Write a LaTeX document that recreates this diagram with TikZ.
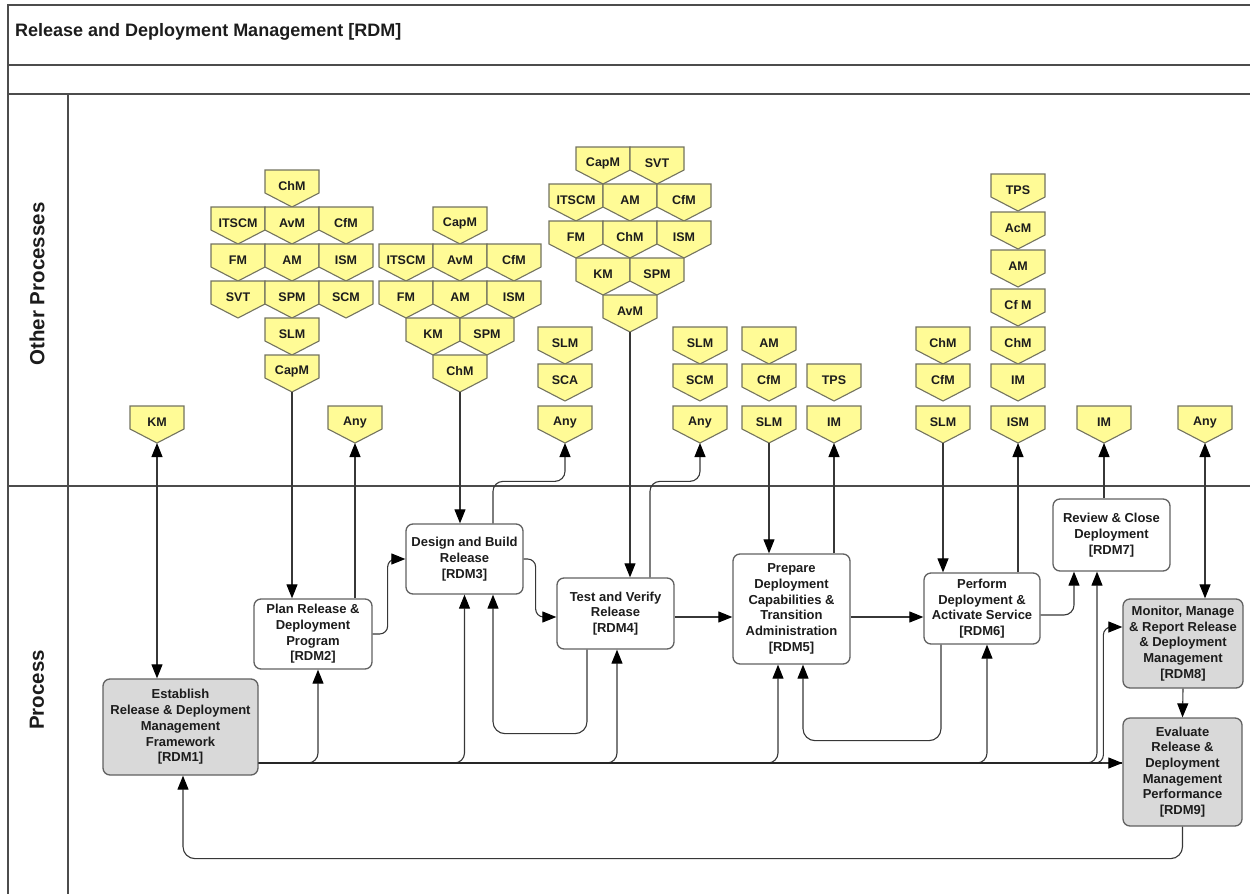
\documentclass[tikz,border=0pt]{standalone}
\usepackage{fontspec}
\setmainfont{Liberation Sans}
\usetikzlibrary{arrows.meta}

\definecolor{chipfill}{RGB}{255,251,150}
\definecolor{chipline}{RGB}{115,115,95}
\definecolor{boxgrey}{RGB}{217,217,217}
\definecolor{ink}{RGB}{28,28,28}
\definecolor{wire}{RGB}{55,55,55}

\tikzset{
  chipshape/.style={fill=chipfill, draw=chipline, line width=1.1pt, line join=miter},
  chiptext/.style={font=\bfseries\fontsize{12.5}{14}\selectfont, text=ink, inner sep=0pt},
  stepbox/.style={draw=black!62, line width=1.3pt, rounded corners=7pt, fill=white,
    align=center, font=\bfseries\fontsize{13}{15.7}\selectfont, text=ink, inner sep=2pt},
  greybox/.style={stepbox, fill=boxgrey},
  wire/.style={draw=wire, line width=1.1pt},
  tip/.style={-{Triangle[length=14pt,width=11pt,color=black]}},
  tips/.style={{Triangle[length=14pt,width=11pt,color=black]}-{Triangle[length=14pt,width=11pt,color=black]}},
  trunk/.style={draw=black!85, line width=2.4pt},
  lane/.style={draw=black!70, line width=1.3pt},
  lanelabel/.style={rotate=90, font=\bfseries\fontsize{20.5}{24}\selectfont, text=ink},
}

% pentagon tag: name, centre x, top y, label
\newcommand{\chip}[4]{%
  \draw[chipshape] (#2-27,#3) -- (#2+27,#3) -- (#2+27,#3+23) -- (#2,#3+37) -- (#2-27,#3+23) -- cycle;
  \node[chiptext] (#1) at (#2,#3+16.5) {#4};
  \coordinate (#1-tip) at (#2,#3+37);
}

\begin{document}
\begin{tikzpicture}[x=1pt,y=-1pt]
\useasboundingbox (0,0) rectangle (1250,894);

% frame and swim lanes
\draw[lane] (8,894) -- (8,5) -- (1250,5);
\draw[lane] (8,65) -- (1250,65);
\draw[lane] (8,94) -- (1250,94);
\draw[lane] (8,486) -- (1250,486);
\draw[lane] (68,94) -- (68,894);

\node[anchor=base west, font=\bfseries\fontsize{18}{20}\selectfont, text=ink, inner sep=0pt]
  (title) at (15,36) {Release and Deployment Management [RDM]};
\node[lanelabel] (laneother) at (37,284) {Other Processes};
\node[lanelabel] (laneproc) at (37,690) {Process};

% ---- other processes: tags ----
\chip{km}{157}{406}{KM}
\chip{anyA}{355}{406}{Any}

% inputs to RDM2
\chip{a1}{292}{170}{ChM}
\chip{a2}{238}{207}{ITSCM}
\chip{a3}{292}{207}{AvM}
\chip{a4}{346}{207}{CfM}
\chip{a5}{238}{244}{FM}
\chip{a6}{292}{244}{AM}
\chip{a7}{346}{244}{ISM}
\chip{a8}{238}{281}{SVT}
\chip{a9}{292}{281}{SPM}
\chip{a10}{346}{281}{SCM}
\chip{a11}{292}{318}{SLM}
\chip{a12}{292}{355}{CapM}

% inputs to RDM3
\chip{b1}{460}{207}{CapM}
\chip{b2}{406}{244}{ITSCM}
\chip{b3}{460}{244}{AvM}
\chip{b4}{514}{244}{CfM}
\chip{b5}{406}{281}{FM}
\chip{b6}{460}{281}{AM}
\chip{b7}{514}{281}{ISM}
\chip{b8}{433}{318}{KM}
\chip{b9}{487}{318}{SPM}
\chip{b10}{460}{355}{ChM}

% outputs of RDM3
\chip{c1}{565}{327}{SLM}
\chip{c2}{565}{364}{SCA}
\chip{anyB}{565}{406}{Any}

% inputs to RDM4
\chip{d1}{603}{147}{CapM}
\chip{d2}{657}{147}{SVT}
\chip{d3}{576}{184}{ITSCM}
\chip{d4}{630}{184}{AM}
\chip{d5}{684}{184}{CfM}
\chip{d6}{576}{221}{FM}
\chip{d7}{630}{221}{ChM}
\chip{d8}{684}{221}{ISM}
\chip{d9}{603}{258}{KM}
\chip{d10}{657}{258}{SPM}
\chip{d11}{630}{295}{AvM}

% outputs of RDM4
\chip{e1}{700}{327}{SLM}
\chip{e2}{700}{364}{SCM}
\chip{anyC}{700}{406}{Any}

% RDM5 inputs and outputs
\chip{f1}{769}{327}{AM}
\chip{f2}{769}{364}{CfM}
\chip{f3}{769}{406}{SLM}
\chip{g1}{834}{364}{TPS}
\chip{g2}{834}{406}{IM}

% RDM6 inputs and outputs
\chip{h1}{943}{327}{ChM}
\chip{h2}{943}{364}{CfM}
\chip{h3}{943}{406}{SLM}
\chip{i1}{1018}{174}{TPS}
\chip{i2}{1018}{212}{AcM}
\chip{i3}{1018}{250}{AM}
\chip{i4}{1018}{289}{Cf M}
\chip{i5}{1018}{327}{ChM}
\chip{i6}{1018}{364}{IM}
\chip{i7}{1018}{406}{ISM}

% RDM7 and RDM8
\chip{j1}{1104}{406}{IM}
\chip{anyD}{1205}{406}{Any}

% ---- process steps ----
\node[greybox, minimum width=155pt, minimum height=96pt] (rdm1) at (180.5,727)
  {Establish\\Release \& Deployment\\Management\\Framework\\{}[RDM1]};
\node[stepbox, minimum width=118pt, minimum height=70pt] (rdm2) at (313,634)
  {Plan Release \&\\Deployment\\Program\\{}[RDM2]};
\node[stepbox, minimum width=117pt, minimum height=70pt] (rdm3) at (464.5,559)
  {Design and Build\\Release\\{}[RDM3]};
\node[stepbox, minimum width=117pt, minimum height=71pt] (rdm4) at (615.5,613.5)
  {Test and Verify\\Release\\{}[RDM4]};
\node[stepbox, minimum width=117pt, minimum height=110pt] (rdm5) at (791.5,609)
  {Prepare\\Deployment\\Capabilities \&\\Transition\\Administration\\{}[RDM5]};
\node[stepbox, minimum width=116pt, minimum height=71pt] (rdm6) at (982,608.5)
  {Perform\\Deployment \&\\Activate Service\\{}[RDM6]};
\node[stepbox, minimum width=117pt, minimum height=72pt] (rdm7) at (1111.5,535)
  {Review \& Close\\Deployment\\{}[RDM7]};
\node[greybox, minimum width=120pt, minimum height=89pt] (rdm8) at (1183,643.5)
  {Monitor, Manage\\\& Report Release\\\& Deployment\\Management\\{}[RDM8]};
\node[greybox, minimum width=119pt, minimum height=108pt] (rdm9) at (1182.5,772)
  {Evaluate\\Release \&\\Deployment\\Management\\Performance\\{}[RDM9]};

% ---- connectors between tags and steps ----
\draw[wire,tips] (km-tip) -- (km-tip |- rdm1.north);
\draw[wire,tip] (a12-tip) -- (a12-tip |- rdm2.north);
\draw[wire,tip] (anyA-tip |- rdm2.north) -- (anyA-tip);
\draw[wire,tip] (b10-tip) -- (b10-tip |- rdm3.north);
\draw[wire,tip,rounded corners=10pt] ([xshift=28.5pt]rdm3.north) -- ++(0,-42) -| (anyB-tip);
\draw[wire,tip] (d11-tip) -- (d11-tip |- rdm4.north);
\draw[wire,tip,rounded corners=10pt] ([xshift=34.5pt]rdm4.north) -- ++(0,-96) -| (anyC-tip);
\draw[wire,tip] (f3-tip) -- (f3-tip |- rdm5.north);
\draw[wire,tip] (g2-tip |- rdm5.north) -- (g2-tip);
\draw[wire,tip] (h3-tip) -- (h3-tip |- rdm6.north);
\draw[wire,tip] (i7-tip |- rdm6.north) -- (i7-tip);
\draw[wire,tip] (j1-tip |- rdm7.north) -- (j1-tip);
\draw[wire,tips] (anyD-tip) -- (anyD-tip |- rdm8.north);

% ---- flow between steps ----
\draw[wire,tip,rounded corners=8pt] (rdm2.east) -- ++(15,0) |- (rdm3.west);
\coordinate (in4) at ([yshift=-3.5pt]rdm4.west);
\draw[wire,tip,rounded corners=8pt] (rdm3.east) -- ++(12,0) |- (in4);
\coordinate (out4) at ([yshift=-3.5pt]rdm4.east);
\draw[wire,tip] (out4) -- (out4 -| rdm5.west);
\coordinate (out5) at ([yshift=-8pt]rdm5.east);
\draw[wire,tip] (out5) -- (out5 -| rdm6.west);
\coordinate (out6) at ([yshift=-6.5pt]rdm6.east);
\draw[wire,tip,rounded corners=10pt] (out6) -| ([xshift=-37.5pt]rdm7.south);
\draw[wire,tip] (rdm8.south) -- (rdm9.north);

% rework loops
\draw[wire,tip,rounded corners=12pt] ([xshift=-28.5pt]rdm4.south) -- ++(0,84) -| ([xshift=28.5pt]rdm3.south);
\draw[wire,tip,rounded corners=12pt] ([xshift=-41pt]rdm6.south) -- ++(0,96) -| ([xshift=11.5pt]rdm5.south);
\draw[wire,tip,rounded corners=12pt] (rdm9.south) -- ++(0,32) -| ([xshift=2.5pt]rdm1.south);

% framework trunk from RDM1 feeding every step
\coordinate (trunk) at ([yshift=-36pt]rdm1.east);
\draw[wire,tip,rounded corners=10pt] (trunk) -| ([xshift=5pt]rdm2.south);
\draw[wire,tip,rounded corners=10pt] (trunk) -| (rdm3.south);
\draw[wire,tip,rounded corners=10pt] (trunk) -| ([xshift=1.5pt]rdm4.south);
\draw[wire,tip,rounded corners=10pt] (trunk) -| ([xshift=-13.5pt]rdm5.south);
\draw[wire,tip,rounded corners=10pt] (trunk) -| ([xshift=5pt]rdm6.south);
\draw[wire,tip,rounded corners=10pt] (trunk) -| ([xshift=-14.5pt]rdm7.south);
\coordinate (in8) at ([yshift=16.5pt]rdm8.west);
\draw[wire,tip,rounded corners=8pt] (trunk) -| ([xshift=-19pt]in8) -- (in8);
\draw[trunk] (trunk) -- (trunk -| rdm9.west);
\draw[wire,tip] ([xshift=-20pt]trunk -| rdm9.west) -- (trunk -| rdm9.west);
\end{tikzpicture}
\end{document}
